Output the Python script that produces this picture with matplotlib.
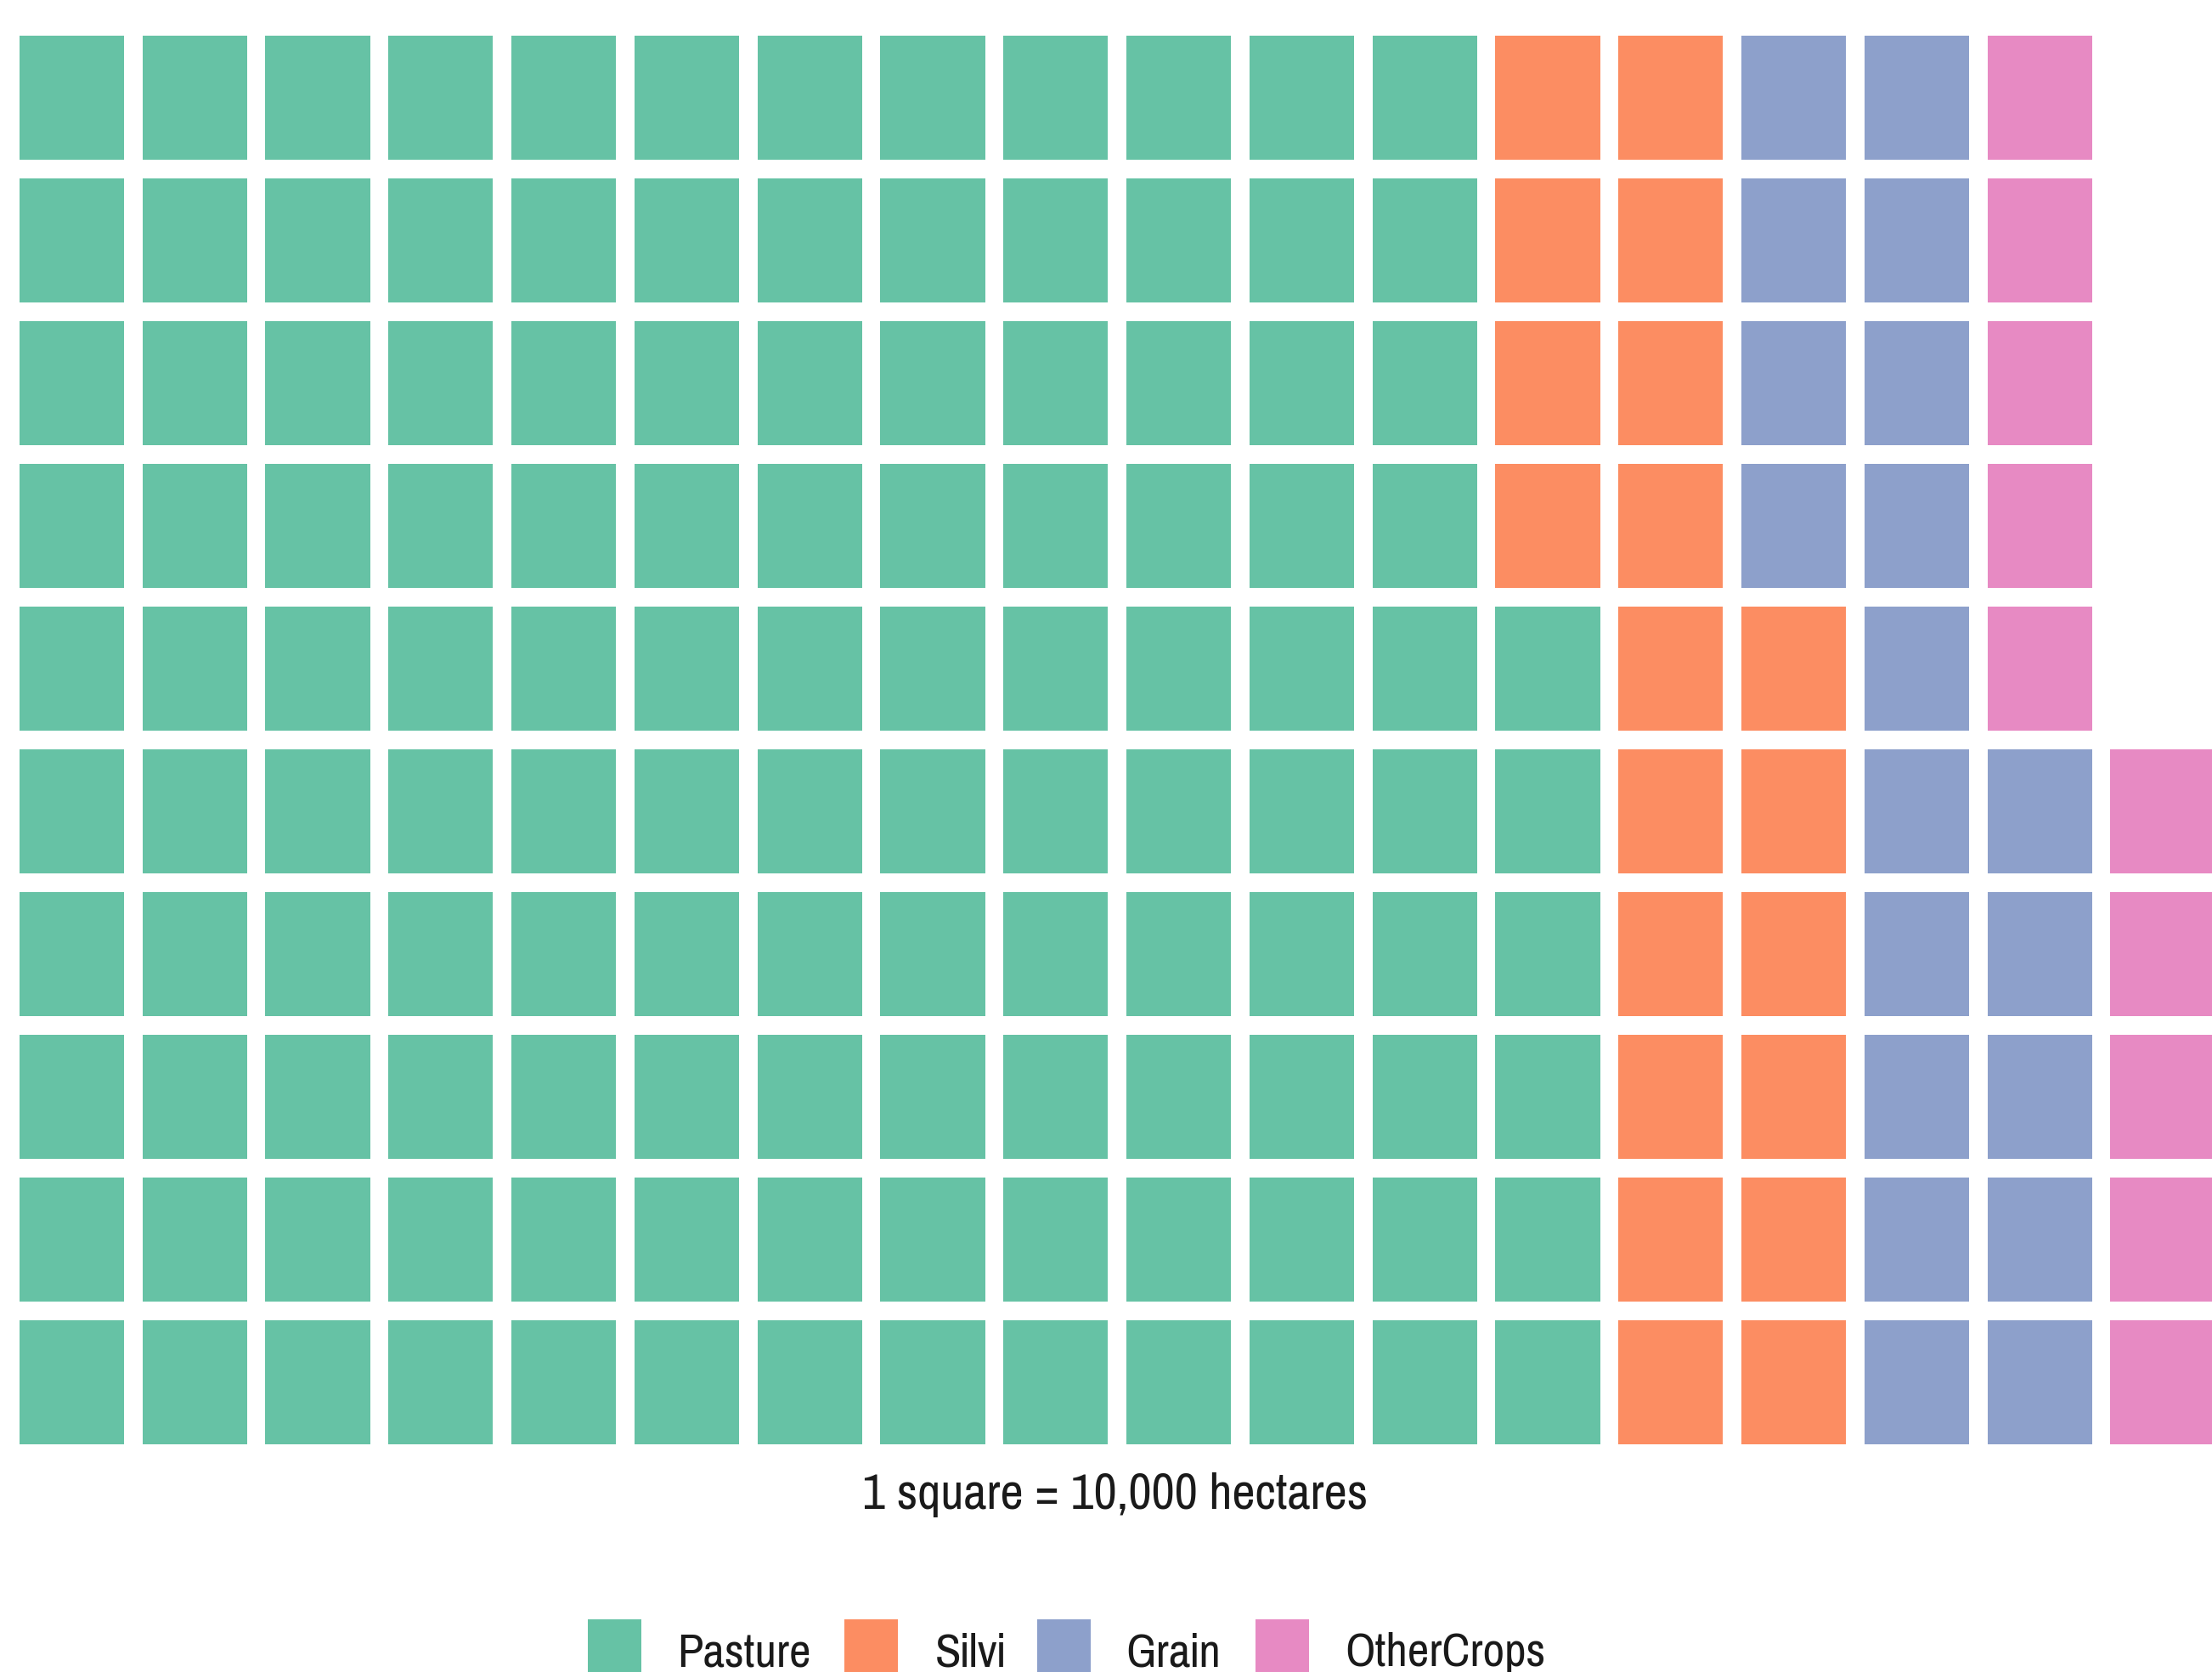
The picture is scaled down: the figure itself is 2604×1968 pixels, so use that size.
import matplotlib
matplotlib.use('Agg')
import matplotlib.pyplot as plt
from matplotlib import font_manager
from matplotlib.patches import Rectangle

# 토지 이용 데이터 (1칸 = 10,000 ha)
categories = ['Pasture', 'Silvi', 'Grain', 'OtherCrops']
squares = [126, 20, 19, 10]
colors = ['#66C2A5', '#FC8D62', '#8DA0CB', '#E78AC3']
n_rows = 10
caption = '1 square = 10,000 hectares'

# 좁은 글꼴이 있으면 사용 (원본 그림은 세로로 늘어나 있음)
family = 'Liberation Sans'
for cand in ['Pragati Narrow', 'Archivo Narrow', 'Roboto Condensed']:
    try:
        font_manager.findfont(cand, fallback_to_default=False)
        family = cand
        break
    except Exception:
        pass
plt.rcParams['font.family'] = [family, 'DejaVu Sans']

W, H = 2604, 1968
fig = plt.figure(figsize=(W / 100, H / 100), dpi=100)
fig.patch.set_facecolor('white')

# 격자 축: 열 간격 144.8px, 행 간격 168px
col_px, row_px = 144.8, 168.0
left_px, top_px = 12, 31
n_cols = 18
ax = fig.add_axes([left_px / W, 1 - (top_px + n_rows * row_px) / H,
                   n_cols * col_px / W, n_rows * row_px / H])
ax.set_xlim(0, n_cols)
ax.set_ylim(0, n_rows)
ax.axis('off')

# 열 단위로 아래에서 위로 채우기
idx = 0
for cat, n, c in zip(categories, squares, colors):
    xs = [(i // n_rows) + 0.5 for i in range(idx, idx + n)]
    ys = [(i % n_rows) + 0.065 for i in range(idx, idx + n)]
    ax.bar(xs, [0.87] * n, bottom=ys, width=0.85, color=c, linewidth=0)
    idx += n

cap = fig.text(1313 / W, 1 - 1760 / H, caption, ha='center', va='center',
               fontsize=35, color='#1a1a1a')

# 범례 (아래쪽이 잘린 형태)
key_x = [692, 994, 1221, 1478]
text_x = [797, 1101, 1325, 1583]
leg_texts = []
for cat, c, kx, tx in zip(categories, colors, key_x, text_x):
    fig.add_artist(Rectangle((kx / W, 1 - 1980 / H), 63 / W, 74 / H,
                             transform=fig.transFigure, color=c, lw=0))
    leg_texts.append(fig.text(tx / W, 1 - 1946 / H, cat, ha='left', va='center',
                              fontsize=35, color='#1a1a1a'))

# 글자 폭을 원본에 맞춤
fig.canvas.draw()
r = fig.canvas.get_renderer()
cap.set_fontsize(35 * 595 / cap.get_window_extent(r).width)
w_leg = leg_texts[3].get_window_extent(r).width
for t in leg_texts:
    t.set_fontsize(35 * 236 / w_leg)

fig.savefig('out.png', dpi=100, facecolor='white')
